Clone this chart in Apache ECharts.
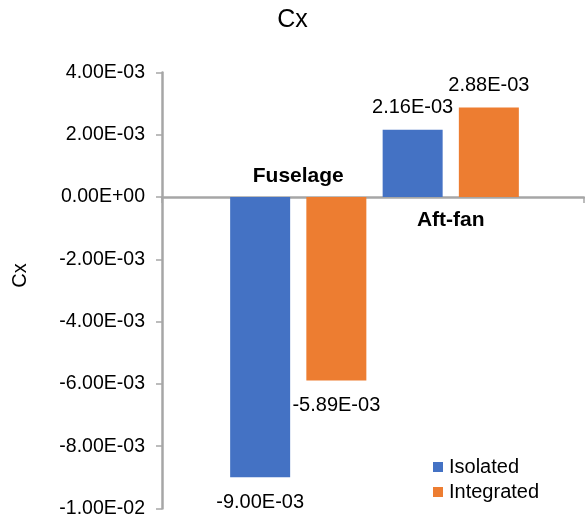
<!DOCTYPE html>
<html><head><meta charset="utf-8">
<script src="https://cdn.jsdelivr.net/npm/echarts@6/dist/echarts.min.js"></script>
<style>html,body{margin:0;padding:0;background:#fff}#c{width:585px;height:521px}</style>
</head><body><div id="c"></div><script>
// ---- data ----
const categories = ['Fuselage', 'Aft-fan'];
const seriesNames = ['Isolated', 'Integrated'];
const isolated = [-9.00e-3, 2.16e-3];
const integrated = [-5.89e-3, 2.88e-3];
const yMin = -0.01, yMax = 0.004, yInterval = 0.002;
const yTickLabels = ['-1.00E-02', '-8.00E-03', '-6.00E-03', '-4.00E-03', '-2.00E-03', '0.00E+00', '2.00E-03', '4.00E-03'];
const titleText = 'Cx';
const yAxisName = 'Cx';

// ---- helpers ----
const FONT = "'Liberation Sans', Arial, sans-serif";
const TXT = '#000';
const AX = '#A6A6A6';
const colors = ['#4472C4', '#ED7D31'];
function sci(v) {
  const s = v.toExponential(2).split('e');
  const m = s[0];
  let e = parseInt(s[1], 10);
  const sign = e < 0 ? '-' : '+';
  e = Math.abs(e);
  return m + 'E' + sign + (e < 10 ? '0' + e : '' + e);
}
function buildData(arr) {
  return arr.map(v => ({
    value: v,
    label: { position: v < 0 ? 'bottom' : 'top', distance: v < 0 ? 15 : 12 }
  }));
}
const groupSign = categories.map((c, i) => isolated[i] + integrated[i]);

const chart = echarts.init(document.getElementById('c'), null, { renderer: 'canvas' });
chart.setOption({
  animation: false,
  color: colors,
  textStyle: { fontFamily: FONT },
  title: {
    text: titleText, left: 'center', top: 3,
    textStyle: { fontFamily: FONT, fontSize: 25, fontWeight: 'normal', color: TXT }
  },
  legend: {
    data: seriesNames, orient: 'vertical', left: 428, top: 452,
    icon: 'rect', itemWidth: 10, itemHeight: 10, itemGap: 5,
    textStyle: { fontFamily: FONT, fontSize: 20, color: TXT, padding: [0, 0, 0, 1] }
  },
  grid: [
    { left: 222, right: 58, top: 72.5, bottom: 12.5 },
    { left: 162, right: 1, top: 72.5, bottom: 12.5 }
  ],
  xAxis: [
    {
      type: 'category', data: categories, gridIndex: 0,
      axisLine: { show: false }, axisTick: { show: false }, axisLabel: { show: false }
    },
    {
      type: 'value', gridIndex: 1, min: 0, max: 1, interval: 1,
      axisLine: { show: true, onZero: true, lineStyle: { color: AX, width: 2.5 } },
      axisTick: { show: true, length: 6, lineStyle: { color: AX, width: 1.5 } },
      axisLabel: { show: false }, splitLine: { show: false }
    }
  ],
  yAxis: [
    {
      type: 'value', gridIndex: 0, min: yMin, max: yMax, interval: yInterval,
      offset: 60,
      name: yAxisName, nameLocation: 'middle', nameGap: 132, nameRotate: 90,
      nameTextStyle: { fontFamily: FONT, fontSize: 20, color: TXT, padding: [0, 0, 0, 30] },
      axisLine: { show: true, lineStyle: { color: AX, width: 2.5 } },
      axisTick: { show: true, length: 6, lineStyle: { color: AX, width: 1.5 } },
      splitLine: { show: false },
      axisLabel: {
        margin: 17, fontFamily: FONT, fontSize: 19.5, color: TXT,
        formatter: v => yTickLabels[Math.round((v - yMin) / yInterval)] || ''
      }
    },
    {
      type: 'value', gridIndex: 1, min: yMin, max: yMax, interval: yInterval, show: false
    }
  ],
  series: [
    {
      name: seriesNames[0], type: 'bar', xAxisIndex: 0, yAxisIndex: 0,
      data: buildData(isolated), barWidth: 60, barGap: '27%',
      itemStyle: { color: colors[0] },
      label: { show: true, fontFamily: FONT, fontSize: 20, color: TXT, formatter: p => sci(p.value) }
    },
    {
      name: seriesNames[1], type: 'bar', xAxisIndex: 0, yAxisIndex: 0,
      data: buildData(integrated), barWidth: 60, barGap: '27%',
      itemStyle: { color: colors[1] },
      label: { show: true, fontFamily: FONT, fontSize: 20, color: TXT, formatter: p => sci(p.value) }
    },
    {
      name: 'categoryLabels', type: 'scatter', xAxisIndex: 0, yAxisIndex: 0,
      symbolSize: 0, silent: true, z: 5,
      itemStyle: { opacity: 1 },
      data: categories.map((c, i) => ({
        value: [c, 0], name: c,
        label: {
          show: true, formatter: '{b}', opacity: 1,
          position: groupSign[i] < 0 ? 'top' : 'bottom',
          distance: groupSign[i] < 0 ? 10 : 13,
          fontFamily: FONT, fontSize: 21, fontWeight: 'bold', color: TXT
        }
      }))
    }
  ]
});
</script></body></html>
